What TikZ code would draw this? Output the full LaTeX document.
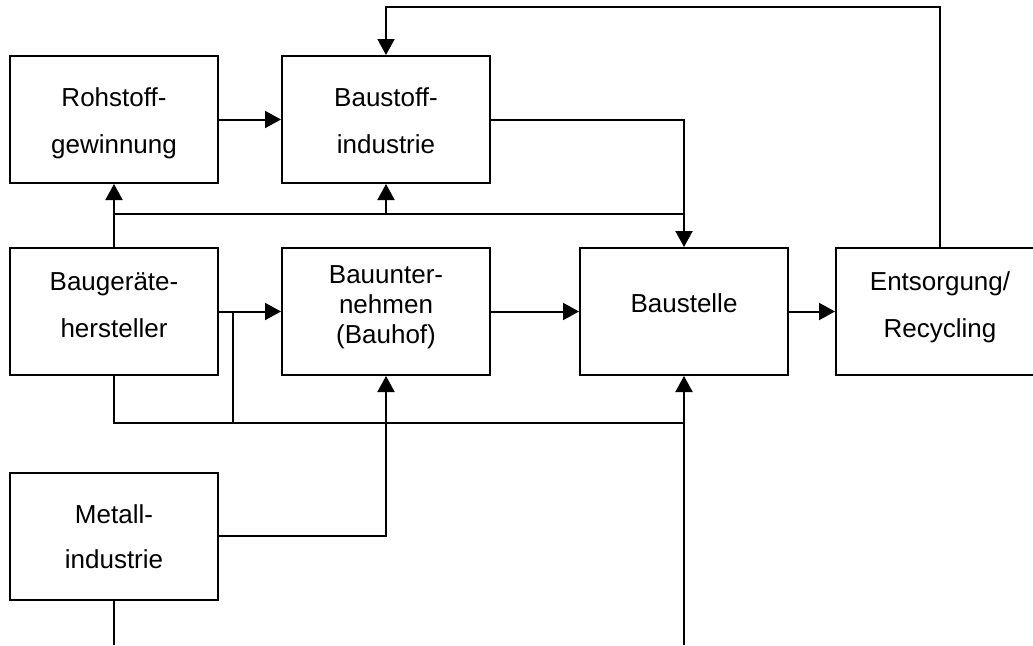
\documentclass[tikz,border=0pt]{standalone}
\usepackage{fontspec}
\setmainfont{Liberation Sans}
\usetikzlibrary{arrows.meta}
\begin{document}
\begin{tikzpicture}[x=1pt,y=-1pt,
  box/.style={draw, line width=2pt, minimum width=208pt, minimum height=127pt, inner sep=0pt},
  txt/.style={font=\fontsize{26}{47}\selectfont, align=center, inner sep=0pt},
  txtnarrow/.style={font=\fontsize{26}{30}\selectfont, align=center, inner sep=0pt},
  conn/.style={line width=2pt},
  flow/.style={conn, -{Triangle[length=16pt,width=17pt]}}]
\clip (0,0) rectangle (1033,645);

% boxes
\node[box] (roh) at (114,119.5) {};
\node[box] (bst) at (386,119.5) {};
\node[box] (bgh) at (114,311.5) {};
\node[box] (bun) at (386,311.5) {};
\node[box] (bsl) at (684,311.5) {};
\node[box] (ent) at (940,311.5) {};
\node[box] (met) at (114,536) {};

% labels
\node[txt] (rohT) at (114,123) {Rohstoff-\\gewinnung};
\node[txt] (bstT) at (386,121) {Baustoff-\\industrie};
\node[txt] (bghT) at (114,305) {Baugeräte-\\hersteller};
\node[txtnarrow] (bunT) at (386,307) {Bauunter-\\nehmen\\(Bauhof)};
\node[txt] (bslT) at (684,303.5) {Baustelle};
\node[txt] (entT) at (940,307) {Entsorgung/\\Recycling};
\node[txt,font=\fontsize{26}{45}\selectfont] (metT) at (114,536.5) {Metall-\\industrie};

% junction and end points
\coordinate (topL) at (386,7);
\coordinate (midL) at (114,214);
\coordinate (midC) at (386,214);
\coordinate (midR) at (684,214);
\coordinate (brA) at (233,311.5);
\coordinate (brB) at (233,423);
\coordinate (lowL) at (114,423);
\coordinate (lowR) at (684,423);
\coordinate (endL) at (114,645);
\coordinate (endR) at (684,645);

% connectors
\draw[flow] (roh.east) -- (bst.west);
\draw[flow] (bst.east) -| (bsl.north);
\draw[flow] (bgh.north) -- (roh.south);
\draw[conn] (midL) -- (midR);
\draw[flow] (midC) -- (bst.south);
\draw[flow] (ent.north) |- (topL) -- (bst.north);
\draw[flow] (bgh.east) -- (bun.west);
\draw[conn] (brA) -- (brB);
\draw[conn] (bgh.south) |- (lowR);
\draw[flow] (endR) -- (bsl.south);
\draw[flow] (bun.east) -- (bsl.west);
\draw[flow] (bsl.east) -- (ent.west);
\draw[flow] (met.east) -| (bun.south);
\draw[conn] (met.south) -- (endL);
\end{tikzpicture}
\end{document}
